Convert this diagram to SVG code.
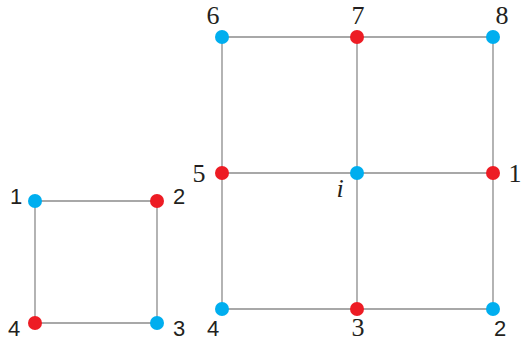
<svg xmlns="http://www.w3.org/2000/svg" width="521" height="341" viewBox="0 0 521 341">
<style>
.e{stroke:#8c8c8c;stroke-width:1.3;fill:none}
.b{fill:#00aeef}
.r{fill:#ed1c24}
</style>
<rect width="521" height="341" fill="#fff"/>
<g id="connectors">
<path class="e" d="M35 201H157V323H35Z"/>
<path class="e" d="M222 37H493V309H222Z"/>
<path class="e" d="M222 173H493M357 37V309"/>
</g>
<g font-family="'Liberation Sans', Arial, sans-serif" font-size="22" fill="#231f20" text-anchor="middle">
<g id="a1"><circle class="b" cx="35" cy="201" r="7"/><text x="16" y="204">1</text></g>
<g id="a2"><circle class="r" cx="157" cy="201" r="7"/><text x="179" y="204">2</text></g>
<g id="a3"><circle class="b" cx="157" cy="323" r="7"/><text x="179" y="336">3</text></g>
<g id="a4"><circle class="r" cx="35" cy="323" r="7"/><text x="14" y="336">4</text></g>
<g id="b4"><circle class="b" cx="222" cy="309" r="7"/><text x="213" y="336">4</text></g>
<g id="b2"><circle class="b" cx="493" cy="309" r="7"/><text x="500" y="336">2</text></g>
</g>
<g font-family="'Liberation Serif', 'Times New Roman', serif" font-size="26" fill="#231f20" text-anchor="middle">
<g id="b6"><circle class="b" cx="222" cy="37" r="7"/><text x="213" y="24">6</text></g>
<g id="b7"><circle class="r" cx="357" cy="37" r="7"/><text x="358" y="24">7</text></g>
<g id="b8"><circle class="b" cx="493" cy="37" r="7"/><text x="502" y="24">8</text></g>
<g id="b5"><circle class="r" cx="222" cy="173" r="7"/><text x="199" y="182">5</text></g>
<g id="bi"><circle class="b" cx="357" cy="173" r="7"/><text x="340" y="197" font-style="italic">i</text></g>
<g id="b1"><circle class="r" cx="493" cy="173" r="7"/><text x="515" y="182">1</text></g>
<g id="b3"><circle class="r" cx="357" cy="309" r="7"/><text x="358" y="336">3</text></g>
</g>
</svg>
